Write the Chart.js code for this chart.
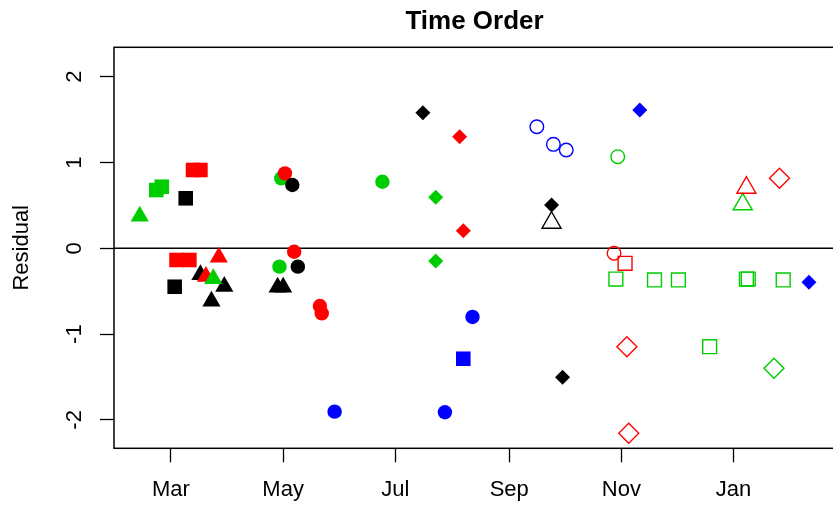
<!DOCTYPE html>
<html>
<head>
<meta charset="utf-8">
<title>Time Order</title>
<script src="https://cdn.jsdelivr.net/npm/chart.js@4.4.1/dist/chart.umd.min.js"></script>
<style>
  html, body { margin: 0; padding: 0; background: #fff; overflow: hidden; }
  #residPlot { display: block; }
</style>
</head>
<body>
<canvas id="residPlot" width="833" height="512"></canvas>
<script>
// residuals against sampling date, one pair of arrays per colour / symbol

// filled circles
var blackCircleDates = ['2010-05-06', '2010-05-09'];
var blackCircleResid = [0.738, -0.214];
var redCircleDates = ['2010-05-02', '2010-05-07', '2010-05-21', '2010-05-22'];
var redCircleResid = [0.874, -0.040, -0.672, -0.758];
var greenCircleDates = ['2010-04-30', '2010-04-29', '2010-06-24'];
var greenCircleResid = [0.816, -0.214, 0.776];
var blueCircleDates = ['2010-05-29', '2010-07-28', '2010-08-12'];
var blueCircleResid = [-1.904, -1.911, -0.800];

// filled triangles
var greenTriDates = ['2010-02-12', '2010-03-24'];
var greenTriResid = [0.374, -0.355];
var redTriDates = ['2010-03-20', '2010-03-27'];
var redTriResid = [-0.329, -0.104];
var blackTriDates = ['2010-03-17', '2010-03-23', '2010-03-30', '2010-04-28', '2010-05-01'];
var blackTriResid = [-0.309, -0.617, -0.445, -0.453, -0.453];

// filled squares
var blackSquareDates = ['2010-03-03', '2010-03-09'];
var blackSquareResid = [-0.448, 0.583];
var redSquareDates = ['2010-03-04', '2010-03-11', '2010-03-13', '2010-03-17'];
var redSquareResid = [-0.136, -0.136, 0.913, 0.913];
var greenSquareDates = ['2010-02-21', '2010-02-24'];
var greenSquareResid = [0.679, 0.718];
var blueSquareDates = ['2010-08-07'];
var blueSquareResid = [-1.287];

// filled diamonds
var blackDiamondDates = ['2010-07-16', '2010-09-24', '2010-09-30'];
var blackDiamondResid = [1.580, 0.505, -1.503];
var redDiamondDates = ['2010-08-05', '2010-08-07'];
var redDiamondResid = [1.301, 0.205];
var greenDiamondDates = ['2010-07-23', '2010-07-23'];
var greenDiamondResid = [0.594, -0.148];
var blueDiamondDates = ['2010-11-11', '2011-02-11'];
var blueDiamondResid = [1.612, -0.396];

// open circles
var blueRingDates = ['2010-09-16', '2010-09-25', '2010-10-02'];
var blueRingResid = [1.417, 1.212, 1.146];
var greenRingDates = ['2010-10-30'];
var greenRingResid = [1.068];
var redRingDates = ['2010-10-28'];
var redRingResid = [-0.058];

// open triangles
var blackOpenTriDates = ['2010-09-24'];
var blackOpenTriResid = [0.298];
var redOpenTriDates = ['2011-01-08'];
var redOpenTriResid = [0.706];
var greenOpenTriDates = ['2011-01-06'];
var greenOpenTriResid = [0.513];

// open squares
var redBoxDates = ['2010-11-03'];
var redBoxResid = [-0.175];
var greenBoxDates = ['2010-10-29', '2010-11-19', '2010-12-02', '2010-12-19', '2011-01-08', '2011-01-09', '2011-01-28'];
var greenBoxResid = [-0.358, -0.369, -0.369, -1.147, -0.358, -0.358, -0.369];

// open diamonds
var redOpenDiamondDates = ['2010-11-04', '2010-11-05', '2011-01-26'];
var redOpenDiamondResid = [-1.147, -2.156, 0.816];
var greenOpenDiamondDates = ['2011-01-23'];
var greenOpenDiamondResid = [-1.399];

// axes
var monthTickDates = ['2010-03-01', '2010-05-01', '2010-07-01', '2010-09-01', '2010-11-01', '2011-01-01'];
var monthLabels = ['Mar', 'May', 'Jul', 'Sep', 'Nov', 'Jan'];
var residTicks = [-2, -1, 0, 1, 2];

var residPlot = (function () {
  'use strict';

  var FONT = '"Liberation Sans", Arial, sans-serif';
  var cols = { black: '#000000', red: '#ff0000', green: '#00cd00', blue: '#0000ff' };

  // days since 1 Jan 2010, so the x axis is a plain linear scale
  function dayOf (s) {
    var p = s.split('-');
    return (Date.UTC(+p[0], +p[1] - 1, +p[2]) - Date.UTC(2010, 0, 1)) / 864e5;
  }

  // R-like symbol sizes
  function radiusFor (shape, filled) {
    if (filled) {
      return { circle: 7.2, rect: 10.3, triangle: 10.5, rectRot: 7.5 }[shape];
    }
    return { circle: 6.8, rect: 9.8, triangle: 11, rectRot: 10 }[shape];
  }

  // earlier entries are drawn on top
  var series = [
    { dates: blackDiamondDates, resid: blackDiamondResid, col: 'black', shape: 'rectRot', filled: true },
    { dates: redDiamondDates, resid: redDiamondResid, col: 'red', shape: 'rectRot', filled: true },
    { dates: greenDiamondDates, resid: greenDiamondResid, col: 'green', shape: 'rectRot', filled: true },
    { dates: blueDiamondDates, resid: blueDiamondResid, col: 'blue', shape: 'rectRot', filled: true },
    { dates: blackCircleDates, resid: blackCircleResid, col: 'black', shape: 'circle', filled: true },
    { dates: redCircleDates, resid: redCircleResid, col: 'red', shape: 'circle', filled: true },
    { dates: greenCircleDates, resid: greenCircleResid, col: 'green', shape: 'circle', filled: true },
    { dates: blueCircleDates, resid: blueCircleResid, col: 'blue', shape: 'circle', filled: true },
    { dates: greenTriDates, resid: greenTriResid, col: 'green', shape: 'triangle', filled: true },
    { dates: redTriDates, resid: redTriResid, col: 'red', shape: 'triangle', filled: true },
    { dates: blackTriDates, resid: blackTriResid, col: 'black', shape: 'triangle', filled: true },
    { dates: blackSquareDates, resid: blackSquareResid, col: 'black', shape: 'rect', filled: true },
    { dates: redSquareDates, resid: redSquareResid, col: 'red', shape: 'rect', filled: true },
    { dates: greenSquareDates, resid: greenSquareResid, col: 'green', shape: 'rect', filled: true },
    { dates: blueSquareDates, resid: blueSquareResid, col: 'blue', shape: 'rect', filled: true },
    { dates: blueRingDates, resid: blueRingResid, col: 'blue', shape: 'circle', filled: false },
    { dates: greenRingDates, resid: greenRingResid, col: 'green', shape: 'circle', filled: false },
    { dates: redRingDates, resid: redRingResid, col: 'red', shape: 'circle', filled: false },
    { dates: blackOpenTriDates, resid: blackOpenTriResid, col: 'black', shape: 'triangle', filled: false },
    { dates: redOpenTriDates, resid: redOpenTriResid, col: 'red', shape: 'triangle', filled: false },
    { dates: greenOpenTriDates, resid: greenOpenTriResid, col: 'green', shape: 'triangle', filled: false },
    { dates: redBoxDates, resid: redBoxResid, col: 'red', shape: 'rect', filled: false },
    { dates: greenBoxDates, resid: greenBoxResid, col: 'green', shape: 'rect', filled: false },
    { dates: redOpenDiamondDates, resid: redOpenDiamondResid, col: 'red', shape: 'rectRot', filled: false },
    { dates: greenOpenDiamondDates, resid: greenOpenDiamondResid, col: 'green', shape: 'rectRot', filled: false }
  ];

  function buildDatasets () {
    return series.map(function (s) {
      var c = cols[s.col];
      return {
        data: s.dates.map(function (d, i) { return { x: dayOf(d), y: s.resid[i] }; }),
        pointStyle: s.shape,
        pointRadius: radiusFor(s.shape, s.filled),
        backgroundColor: s.filled ? c : 'rgba(0,0,0,0)',
        borderColor: c,
        borderWidth: s.filled ? 0 : 1.4,
        clip: false
      };
    });
  }

  // frame, zero line, title and the rotated y labels (R style)
  var decorations = {
    id: 'decorations',
    beforeDatasetsDraw: function (chart) {
      var ctx = chart.ctx;
      var a = chart.chartArea;
      var y0 = chart.scales.y.getPixelForValue(0);
      ctx.save();
      ctx.strokeStyle = '#000';
      ctx.lineWidth = 1.5;
      ctx.beginPath();
      ctx.moveTo(a.left, y0);
      ctx.lineTo(a.right, y0);
      ctx.stroke();
      ctx.restore();
    },
    afterDraw: function (chart) {
      var ctx = chart.ctx;
      var a = chart.chartArea;
      var ys = chart.scales.y;
      ctx.save();
      ctx.strokeStyle = '#000';
      ctx.lineWidth = 1.5;
      // the box's right side falls just past the canvas edge
      ctx.strokeRect(a.left, a.top, a.right + 2 - a.left, a.bottom - a.top);

      ctx.fillStyle = '#000';
      ctx.textAlign = 'center';
      ctx.textBaseline = 'middle';
      ctx.font = 'bold 26px ' + FONT;
      ctx.fillText('Time Order', (a.left + a.right + 2) / 2, 22);

      ctx.font = '22px ' + FONT;
      residTicks.forEach(function (t) {
        ctx.save();
        ctx.translate(75, ys.getPixelForValue(t));
        ctx.rotate(-Math.PI / 2);
        ctx.fillText(String(t), 0, 0);
        ctx.restore();
      });
      ctx.save();
      ctx.translate(22, (a.top + a.bottom) / 2);
      ctx.rotate(-Math.PI / 2);
      ctx.fillText('Residual', 0, 0);
      ctx.restore();
      ctx.restore();
    }
  };

  function init () {
    var tickDays = monthTickDates.map(dayOf);
    new Chart(document.getElementById('residPlot'), {
      type: 'scatter',
      data: { datasets: buildDatasets() },
      options: {
        responsive: false,
        animation: false,
        events: [],
        layout: { autoPadding: false, padding: { top: 47.3, right: 0, bottom: 0, left: 0 } },
        plugins: {
          legend: { display: false },
          tooltip: { enabled: false },
          title: { display: false }
        },
        scales: {
          x: {
            type: 'linear',
            min: 28,
            max: 419.1,
            afterBuildTicks: function (scale) {
              scale.ticks = tickDays.map(function (v) { return { value: v }; });
            },
            afterFit: function (scale) { scale.height = 63.7; },
            grid: { drawOnChartArea: false, drawTicks: true, tickLength: 14, tickColor: '#000', tickWidth: 1.3 },
            border: { display: false },
            ticks: {
              autoSkip: false,
              maxRotation: 0,
              padding: 14.5,
              color: '#000',
              font: { family: FONT, size: 22 },
              callback: function (v, i) { return monthLabels[i]; }
            }
          },
          y: {
            type: 'linear',
            min: -2.331,
            max: 2.343,
            afterBuildTicks: function (scale) {
              scale.ticks = residTicks.map(function (v) { return { value: v }; });
            },
            afterFit: function (scale) { scale.width = 114; },
            grid: { drawOnChartArea: false, drawTicks: true, tickLength: 14, tickColor: '#000', tickWidth: 1.3 },
            border: { display: false },
            ticks: { display: false }
          }
        }
      },
      plugins: [decorations]
    });
  }

  return {
    init: init
  };
}());

residPlot.init();
</script>
</body>
</html>
